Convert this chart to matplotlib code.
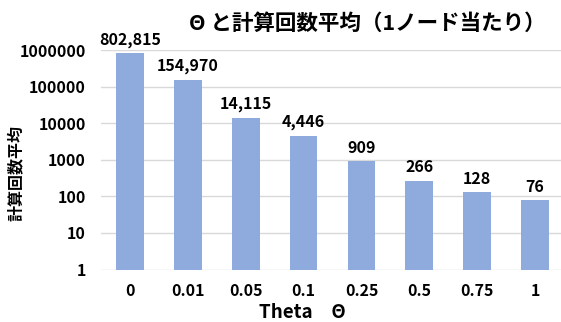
import matplotlib
matplotlib.use("Agg")
import matplotlib.pyplot as plt

plt.rcParams['font.family'] = ['Noto Sans CJK JP', 'DejaVu Sans']

categories = ["0", "0.01", "0.05", "0.1", "0.25", "0.5", "0.75", "1"]
values = [802815, 154970, 14115, 4446, 909, 266, 128, 76]
ytick_vals = [1, 10, 100, 1000, 10000, 100000, 1000000]
ytick_labels = ["1", "10", "100", "1000", "10000", "100000", "1000000"]

W, H = 561, 322
fig = plt.figure(figsize=(W / 100, H / 100), dpi=100)
ax = fig.add_axes([101 / W, 1 - 269.5 / H, 463 / W, (269.5 - 50) / H])

x = list(range(len(categories)))
ax.bar(x, values, width=0.48, color="#8FAADC", zorder=3, bottom=1)
ax.set_yscale("log")
ax.set_ylim(1, 1000000)
ax.set_xlim(-0.5, len(categories) - 0.5)
ax.set_yticks(ytick_vals)
ax.set_yticklabels(ytick_labels)
ax.minorticks_off()
ax.set_xticks(x)
ax.set_xticklabels(categories)
ax.tick_params(axis="both", length=0, labelsize=11.5, colors="black")
ax.tick_params(axis="x", pad=10)
ax.tick_params(axis="y", pad=11)
for lab in ax.get_xticklabels() + ax.get_yticklabels():
    lab.set_fontweight("bold")
ax.grid(axis="y", color="#D9D9D9", linewidth=1, zorder=0)
for s in ax.spines.values():
    s.set_visible(False)

for xi, v in zip(x, values):
    ax.annotate(f"{v:,}", (xi, v), xytext=(0, 4), textcoords="offset points",
                ha="center", va="bottom", fontsize=11.5, fontweight="bold")

fig.text(367 / W, 1 - 23 / H, "Θ と計算回数平均（1ノード当たり）", ha="center", va="center",
         fontsize=15.5, fontweight="bold")
fig.text(16 / W, 1 - 173 / H, "計算回数平均", rotation=90, ha="center", va="center",
         fontsize=11.5, fontweight="bold")
fig.text(302 / W, 1 - 312 / H, "Theta　Θ", ha="center", va="center",
         fontsize=13.5, fontweight="bold")

fig.savefig("out.png", dpi=100)
